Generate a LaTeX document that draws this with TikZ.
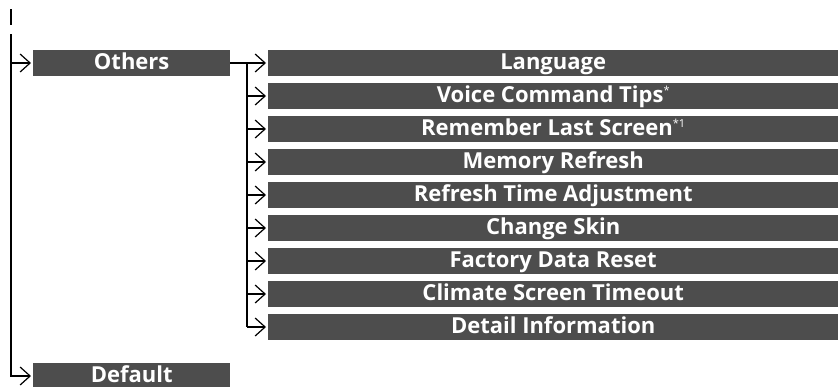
\documentclass[tikz,border=0pt]{standalone}
\usepackage{fontspec}
\setmainfont{Open Sans}
\usetikzlibrary{arrows.meta}
\definecolor{boxgray}{HTML}{4D4D4D}
\newcommand{\supmark}[1]{\raisebox{0.6ex}{\fontsize{11}{11}\selectfont\mdseries #1}}
\begin{document}
\begin{tikzpicture}[x=1pt,y=-1pt,
  menubox/.style={fill=boxgray, text=white, font=\fontsize{22}{24}\selectfont\bfseries,
    inner sep=0pt, anchor=west, minimum height=26pt, text height=16pt, text depth=4pt},
  mainbox/.style={menubox, minimum width=197pt},
  subbox/.style={menubox, minimum width=570pt},
  conn/.style={line width=1.8pt},
  arr/.style={line width=1.8pt, -{Straight Barb[length=10pt,width=18pt,line width=1.2pt]}, shorten >=2pt}]
\useasboundingbox (0,0) rectangle (838,386);

% top dash
\coordinate (dashA) at (11,9);
\coordinate (dashB) at (11,25);
\draw[line width=1.5pt] (dashA) -- (dashB);

% main boxes
\node[mainbox] (others) at (33,63) {Others};
\node[mainbox] (default) at (33,376) {Default};

% sub boxes
\node[subbox] (s1) at (268,63) {Language};
\node[subbox] (s2) at (268,96) {Voice Command Tips\supmark{*}};
\node[subbox] (s3) at (268,129) {Remember Last Screen\supmark{*1}};
\node[subbox] (s4) at (268,162) {Memory Refresh};
\node[subbox] (s5) at (268,195) {Refresh Time Adjustment};
\node[subbox] (s6) at (268,228) {Change Skin};
\node[subbox] (s7) at (268,261) {Factory Data Reset};
\node[subbox] (s8) at (268,294) {Climate Screen Timeout};
\node[subbox] (s9) at (268,327) {Detail Information};

% left spine
\coordinate (spineTop) at (11,34);
\coordinate (spineOthers) at (11,63);
\draw[conn] (spineTop) -- (11,376);
\draw[arr] (spineTop) |- (default.west);
\draw[arr] (spineOthers) -- (others.west);

% branch
\coordinate (br) at (247,63);
\draw[conn] (others.east) -- (br);
\draw[conn] (br) -- (br |- s9.west);
\foreach \i in {1,...,9} {
  \draw[arr] (br |- s\i.west) -- (s\i.west);
}
\end{tikzpicture}
\end{document}
